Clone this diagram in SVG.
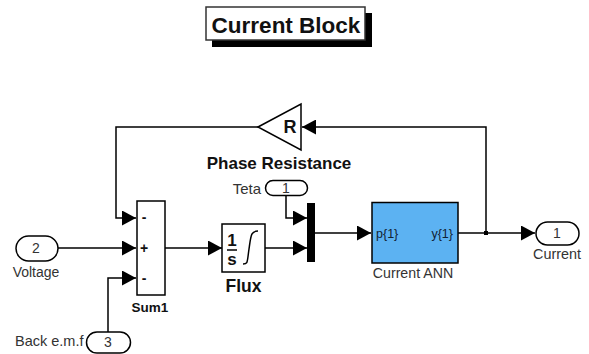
<svg xmlns="http://www.w3.org/2000/svg" width="589" height="354" viewBox="0 0 589 354">
<defs>
<marker id="a" markerUnits="userSpaceOnUse" markerWidth="14" markerHeight="15" refX="14" refY="7.5" orient="auto"><path d="M0 0L14 7.5L0 15Z" fill="#000"/></marker>
</defs>
<style>
text{font-family:"Liberation Sans",Arial,sans-serif;fill:#333}
.b{font-weight:bold;fill:#111}
.s{font-size:14px}
.c{text-anchor:middle}
.w{fill:none;stroke:#000;stroke-width:1.5}
.n{fill:#fff;stroke:#000;stroke-width:1.5}
</style>
<rect width="589" height="354" fill="#fff"/>
<g id="connectors">
<path class="w" d="M258 127H116V218H136" marker-end="url(#a)"/>
<path class="w" d="M58 248H136" marker-end="url(#a)"/>
<path class="w" d="M108 332V278H136" marker-end="url(#a)"/>
<path class="w" d="M165 248H222" marker-end="url(#a)"/>
<path class="w" d="M265 248H307" marker-end="url(#a)"/>
<path class="w" d="M286 195V218H307" marker-end="url(#a)"/>
<path class="w" d="M315 233H371" marker-end="url(#a)"/>
<path class="w" d="M458 233H535" marker-end="url(#a)"/>
<path class="w" d="M486 233V127H302" marker-end="url(#a)"/>
<rect x="484" y="231" width="4" height="4" fill="#000"/>
</g>
<g id="title">
<rect x="212" y="13" width="160" height="34" fill="#000"/>
<rect x="206" y="7" width="159" height="33" fill="#fff" stroke="#333" stroke-width="1.5"/>
<text x="286" y="33" class="b c" style="font-size:22.5px">Current Block</text>
</g>
<g id="phase-resistance">
<path class="n" d="M258 127L301 104V150Z"/>
<text x="290" y="133" class="b c" style="font-size:18px">R</text>
<text x="279" y="169" class="b c" style="font-size:17px">Phase Resistance</text>
</g>
<g id="teta">
<rect x="265.500" y="180.500" width="42" height="15" rx="7.500" class="n"/>
<text x="286" y="193" class="s c">1</text>
<text x="261" y="194" style="font-size:15px" text-anchor="end">Teta</text>
</g>
<g id="voltage">
<rect x="16" y="236" width="42" height="25" rx="12.500" class="n"/>
<text x="36" y="253" class="s c">2</text>
<text x="36" y="277" class="s c">Voltage</text>
</g>
<g id="back-emf">
<rect x="86.500" y="332" width="44" height="21" rx="10.500" class="n"/>
<text x="108" y="347" class="s c">3</text>
<text x="15" y="346" style="font-size:14.500px">Back e.m.f</text>
</g>
<g id="sum1">
<rect x="137" y="201" width="28" height="94" class="n"/>
<text x="144" y="222" class="b c s">-</text>
<text x="144" y="253" class="b c s">+</text>
<text x="144" y="283" class="b c s">-</text>
<text x="150" y="312" class="b c" style="font-size:13.500px">Sum1</text>
</g>
<g id="flux">
<rect x="222" y="224" width="43" height="48" class="n"/>
<text x="232" y="246" class="b c" style="font-size:17px">1</text>
<path d="M227 250H237" stroke="#000" stroke-width="1.500"/>
<text x="232" y="265" class="b c" style="font-size:17px">s</text>
<path d="M243 264c5 0 4-1 6-15s2-18 9-18" class="w"/>
<text x="243.500" y="292" class="b c" style="font-size:17.500px">Flux</text>
</g>
<g id="mux">
<rect x="307" y="203" width="8" height="59" fill="#000"/>
</g>
<g id="current-ann">
<rect x="372" y="202.500" width="86" height="60.500" fill="#5cb2f2" stroke="#000" stroke-width="1.500"/>
<text x="376" y="238" style="font-size:12.500px;fill:#123">p{1}</text>
<text x="453" y="238" text-anchor="end" style="font-size:12.500px;fill:#123">y{1}</text>
<text x="413" y="278" class="c" style="font-size:14.200px">Current ANN</text>
</g>
<g id="current">
<rect x="536" y="222" width="43" height="23" rx="11.500" class="n"/>
<text x="557" y="238" class="s c">1</text>
<text x="557" y="259" class="c" style="font-size:14.400px">Current</text>
</g>
</svg>
